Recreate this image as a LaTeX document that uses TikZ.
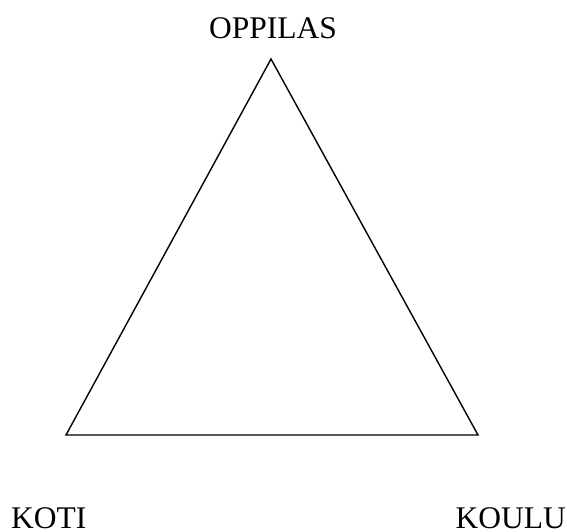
\documentclass[tikz,border=0pt]{standalone}
\usepackage{fontspec}
\setmainfont{Liberation Serif}
\begin{document}
\begin{tikzpicture}[x=1pt,y=1pt,
  lbl/.style={inner sep=0pt,font=\fontsize{31.5}{38}\selectfont},
  edge/.style={line width=1.4pt,line join=miter}]
\useasboundingbox (0,0) rectangle (567,532);
\coordinate (top) at (271,473);
\coordinate (bl) at (66,97);
\coordinate (br) at (478,97);
\draw[edge] (top) -- (bl) -- (br) -- cycle;
\node[lbl,anchor=base] (oppilas) at (273,493) {OPPILAS};
\node[lbl,anchor=base west] (koti) at (11,3) {KOTI};
\node[lbl,anchor=base east] (koulu) at (566,3) {KOULU};
\end{tikzpicture}
\end{document}
